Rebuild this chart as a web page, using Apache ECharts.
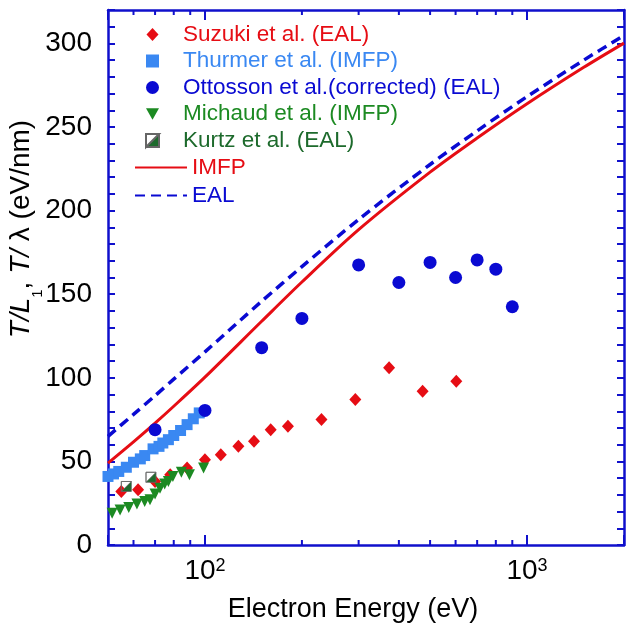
<!DOCTYPE html>
<html><head><meta charset="utf-8">
<script src="https://cdn.jsdelivr.net/npm/echarts@6/dist/echarts.min.js"></script>
<style>html,body{margin:0;padding:0;background:#fff}#c{width:635px;height:631px}</style>
</head><body><div id="c"></div>
<script>
// ---- data ----
const curveEnergy = [50, 60, 70, 80, 100, 150, 200, 300, 500, 700, 1000, 1500, 2000];
const imfpCurve   = [49, 61.7, 72.9, 83, 100.4, 133.8, 157.3, 188.6, 223, 243.4, 263.9, 285.7, 300.2];
const ealCurve    = [65, 78.1, 89.3, 99.2, 115.5, 145.8, 166.5, 194.7, 227.6, 247.7, 268.2, 290, 304.8];

const suzukiE = [55, 62, 70, 78, 88, 100, 112, 127, 142, 160, 181, 230, 293, 373, 474, 603];
const suzukiV = [32, 33, 38, 42, 46, 51, 54, 59, 62, 69, 71, 75, 87, 106, 92, 98];

const thurmerE = [50, 52, 54, 57, 60, 63, 65, 69, 72, 74, 77, 80, 84, 88, 92, 96];
const thurmerV = [41, 42.5, 44, 46.5, 49.5, 51.5, 53.5, 57.5, 59, 61, 63, 65.5, 68.5, 72, 75.5, 79];

const ottossonE = [70, 100, 150, 200, 300, 400, 500, 600, 700, 800, 900];
const ottossonV = [69, 80.5, 118, 135.5, 167.5, 157, 169, 160, 170.5, 165, 142.5];

const michaudE = [49, 51.5, 54.5, 58, 61.5, 65, 67.5, 70, 72.5, 75, 77, 79.5, 84.5, 89.5, 99];
const michaudV = [18, 19, 21, 22.5, 24.5, 26, 27, 30.5, 34, 36.5, 38, 41, 43.5, 42, 46];

const kurtzE = [57, 68];
const kurtzV = [35, 40.5];

const xMinorTicks = [60, 70, 80, 90, 200, 300, 400, 500, 600, 700, 800, 900];
const yTickLabels = [0, 50, 100, 150, 200, 250, 300];

const names = {
  suzuki: 'Suzuki et al. (EAL)',
  thurmer: 'Thurmer et al. (IMFP)',
  ottosson: 'Ottosson et al.(corrected) (EAL)',
  michaud: 'Michaud et al. (IMFP)',
  kurtz: 'Kurtz et al. (EAL)',
  imfp: 'IMFP',
  eal: 'EAL'
};

// ---- style ----
const FONT = '"Liberation Sans", Arial, Helvetica, sans-serif';
const FRAME = '#1010cc';
const RED = '#e60d14';
const LBLUE = '#3a88f2';
const DBLUE = '#0a0ad2';
const GREEN = '#1c8a22';
const DGREEN = '#1d6a2c';

const KURTZ_PATH = 'path://M0,0L10,0L10,10L0,10Z M0,0L0,10L10,0Z';

const pairs = (xs, ys) => xs.map((x, i) => [x, ys[i]]);
const YMAX = 320;

const chart = echarts.init(document.getElementById('c'));

const xBase = {
  type: 'log', logBase: 10, min: 50, max: 2000,
  axisLine: { show: true, onZero: false, lineStyle: { color: FRAME, width: 2.5 } },
  axisTick: { show: true, inside: true, length: 10, lineStyle: { color: FRAME, width: 2 } },
  splitLine: { show: false }, minorTick: { show: false }, minorSplitLine: { show: false }
};
const yBase = {
  type: 'value', min: 0, max: YMAX, interval: 10,
  axisLine: { show: true, onZero: false, lineStyle: { color: FRAME, width: 2.5 } },
  axisTick: { show: true, inside: true, length: 7, interval: 0, lineStyle: { color: FRAME, width: 2 } },
  splitLine: { show: false }
};

const option = {
  animation: false,
  backgroundColor: '#fff',
  grid: { left: 108, right: 11, top: 10, bottom: 86, containLabel: false, outerBoundsMode: 'none' },
  xAxis: [
    Object.assign({}, xBase, {
      position: 'bottom',
      axisLabel: {
        show: true, margin: 12, color: '#000', fontFamily: FONT, fontSize: 28,
        formatter: v => {
          const e = Math.round(Math.log10(v));
          return Math.abs(Math.pow(10, e) - v) < 1e-6 ? '10{sup|' + e + '}' : '';
        },
        rich: { sup: { fontSize: 18, fontFamily: FONT, color: '#000', verticalAlign: 'top', padding: [0, 0, 6, 0] } }
      }
    }),
    Object.assign({}, xBase, { position: 'top', axisLabel: { show: false } })
  ],
  yAxis: [
    Object.assign({}, yBase, {
      position: 'left',
      axisLabel: {
        show: true, interval: 0, margin: 16, color: '#000', fontFamily: FONT, fontSize: 28,
        formatter: v => (yTickLabels.indexOf(v) >= 0 ? String(v) : '')
      }
    }),
    Object.assign({}, yBase, { position: 'right', axisLabel: { show: false } })
  ],
  legend: [
    {
      orient: 'vertical', left: 145, top: 23, padding: 0,
      itemWidth: 13, itemHeight: 13, itemGap: 3.5, symbolKeepAspect: true,
      formatter: n => '{gap|}' + n,
      textStyle: { fontFamily: FONT, fontSize: 22.5, lineHeight: 22, rich: { gap: { width: 19 } } },
      data: [
        { name: names.suzuki, icon: 'path://M6,0L12,6.5L6,13L0,6.5Z', textStyle: { color: RED } },
        { name: names.thurmer, icon: 'path://M0,0L10,0L10,10L0,10Z', textStyle: { color: LBLUE } },
        { name: names.ottosson, icon: 'circle', textStyle: { color: DBLUE } },
        { name: names.michaud, icon: 'path://M0,0L12,0L6,10.5Z', textStyle: { color: GREEN } },
        { name: names.kurtz, icon: KURTZ_PATH, textStyle: { color: DGREEN } }
      ]
    },
    {
      orient: 'vertical', left: 134, top: 156, padding: 0,
      itemWidth: 52, itemHeight: 13, itemGap: 5,
      textStyle: { fontFamily: FONT, fontSize: 22.5, lineHeight: 22 },
      data: [
        { name: names.imfp, itemStyle: { opacity: 0 }, textStyle: { color: RED } },
        { name: names.eal, itemStyle: { opacity: 0 }, textStyle: { color: DBLUE } }
      ]
    }
  ],
  graphic: [
    {
      type: 'text', x: 21, y: 229, rotation: Math.PI / 2,
      style: {
        text: '{i|T/L}{s|1}{n|, }{i|T/ }{n|λ (eV/nm)}',
        align: 'center', verticalAlign: 'middle',
        rich: {
          i: { fontStyle: 'italic', fontSize: 28, fontFamily: FONT, fill: '#000', verticalAlign: 'middle' },
          n: { fontSize: 28, fontFamily: FONT, fill: '#000', verticalAlign: 'middle' },
          s: { fontSize: 15, fontFamily: FONT, fill: '#000', verticalAlign: 'middle', padding: [34, 0, 0, 0] }
        }
      }
    },
    {
      type: 'text', x: 353, y: 610,
      style: { text: 'Electron Energy (eV)', fontSize: 27, fontFamily: FONT, fill: '#000', align: 'center', verticalAlign: 'middle' }
    }
  ],
  series: [
    {
      name: names.imfp, type: 'line', data: pairs(curveEnergy, imfpCurve), smooth: 0.3,
      symbol: 'none', showSymbol: false, z: 2,
      lineStyle: { color: RED, width: 3 }, itemStyle: { color: RED }
    },
    {
      name: names.eal, type: 'line', data: pairs(curveEnergy, ealCurve), smooth: 0.3,
      symbol: 'none', showSymbol: false, z: 2,
      lineStyle: { color: DBLUE, width: 3.5, type: [10, 6] }, itemStyle: { color: DBLUE }
    },
    {
      name: names.thurmer, type: 'scatter', data: pairs(thurmerE, thurmerV),
      symbol: 'rect', symbolSize: 11, z: 3, itemStyle: { color: LBLUE, opacity: 1 }
    },
    {
      name: names.suzuki, type: 'scatter', data: pairs(suzukiE, suzukiV),
      symbol: 'diamond', symbolSize: [12, 13], z: 3, itemStyle: { color: RED, opacity: 1 }
    },
    {
      name: names.michaud, type: 'scatter', data: pairs(michaudE, michaudV),
      symbol: 'triangle', symbolRotate: 180, symbolSize: 11, z: 4, itemStyle: { color: GREEN, opacity: 1 }
    },
    {
      name: names.kurtz, type: 'scatter', data: pairs(kurtzE, kurtzV),
      symbol: KURTZ_PATH, symbolSize: 10, z: 5,
      itemStyle: { color: DGREEN, borderColor: '#666', borderWidth: 0.8, opacity: 1 }
    },
    {
      name: names.ottosson, type: 'scatter', data: pairs(ottossonE, ottossonV),
      symbol: 'circle', symbolSize: 13, z: 5, itemStyle: { color: DBLUE, opacity: 1 }
    },
    {
      name: 'minorTicks', type: 'custom', xAxisIndex: 0, yAxisIndex: 0, silent: true, z: 10, clip: false,
      data: xMinorTicks.map(v => [v, 0]),
      encode: { x: 0, y: 1 },
      renderItem: (params, api) => {
        const e = api.value(0);
        const b = api.coord([e, 0]);
        const t = api.coord([e, YMAX]);
        return {
          type: 'group',
          children: [
            { type: 'line', shape: { x1: b[0], y1: b[1], x2: b[0], y2: b[1] - 5 }, style: { stroke: FRAME, lineWidth: 2 } },
            { type: 'line', shape: { x1: t[0], y1: t[1], x2: t[0], y2: t[1] + 5 }, style: { stroke: FRAME, lineWidth: 2 } }
          ]
        };
      }
    }
  ]
};
chart.setOption(option);
</script>
</body></html>
